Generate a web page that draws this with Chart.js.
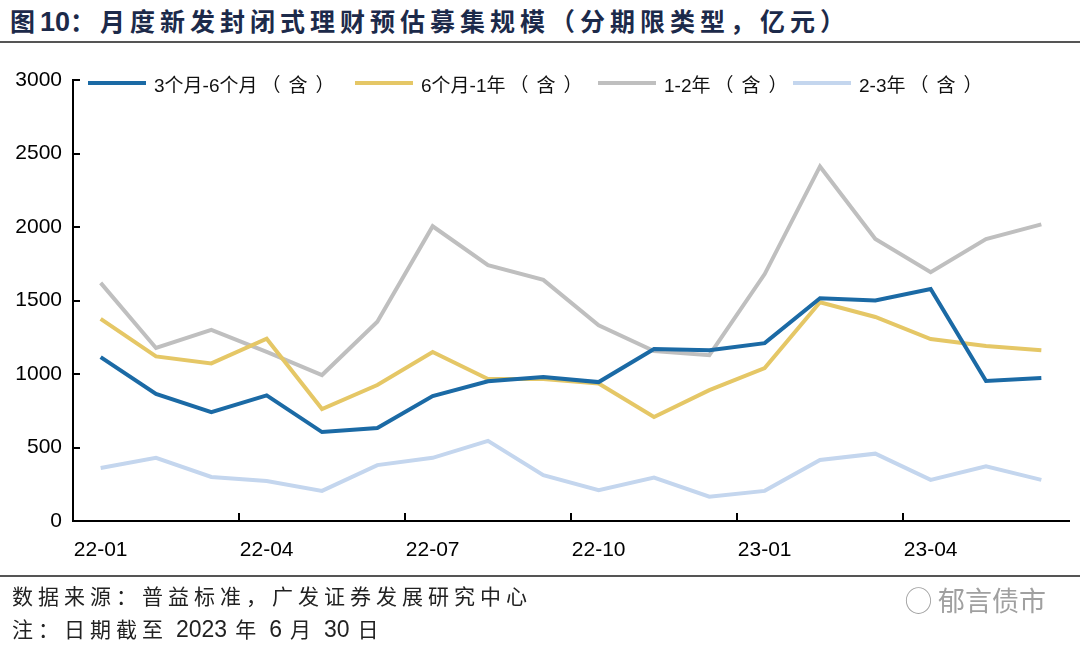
<!DOCTYPE html>
<html>
<head>
<meta charset="utf-8">
<script src="https://cdn.jsdelivr.net/npm/chart.js@4.4.0/dist/chart.umd.min.js"></script>
<style>
body{margin:0;background:#fff;width:1080px;height:646px;overflow:hidden;position:relative;font-family:"Noto Sans CJK SC","Liberation Sans",sans-serif;}
#title{position:absolute;left:10px;top:2px;font-size:25px;font-weight:bold;color:#1c2a4a;letter-spacing:5px;white-space:nowrap;}
#title .num{letter-spacing:0;font-family:"Liberation Sans",sans-serif;font-size:27px;}
.rule{position:absolute;left:0;width:1080px;height:2px;background:#555;}
#wrap{position:absolute;left:0;top:0;width:1080px;height:646px;}
#legend{position:absolute;top:70px;left:0;height:26px;}
.item{position:absolute;top:0;display:flex;align-items:center;height:26px;font-size:19px;color:#111;white-space:nowrap;font-family:"Liberation Sans","Noto Sans CJK SC",sans-serif;}
.item span.ln{display:inline-block;width:58px;height:4px;margin-right:8px;}
.item span.pr{letter-spacing:8px;margin-left:4px;}
.foot{position:absolute;left:12px;font-size:21px;color:#222;letter-spacing:5px;white-space:nowrap;}
.foot .num{letter-spacing:0;font-family:"Liberation Sans",sans-serif;font-size:23px;padding:0 8px;}
#mark{position:absolute;left:905px;top:580px;font-size:27px;color:#a0a0a0;white-space:nowrap;}
</style>
</head>
<body>
<div id="title">图<span class="num">10</span>：月度新发封闭式理财预估募集规模（分期限类型，亿元）</div>
<div class="rule" style="top:41px"></div>
<div id="wrap"><canvas id="myChart" width="1080" height="646"></canvas></div>
<div id="legend"></div>
<div class="rule" style="top:575px"></div>
<div class="foot" style="top:580px">数据来源：普益标准，广发证券发展研究中心</div>
<div class="foot" style="top:613px">注：日期截至<span class="num">2023</span>年<span class="num">6</span>月<span class="num">30</span>日</div>
<div id="mark">&#9711; 郁言债市</div>
<script>
var months = ['22-01','22-02','22-03','22-04','22-05','22-06','22-07','22-08','22-09',
              '22-10','22-11','22-12','23-01','23-02','23-03','23-04','23-05','23-06'];
var seriesNames = ['3个月-6个月（含）','6个月-1年（含）','1-2年（含）','2-3年（含）'];
var m3to6 = [1115,865,740,855,605,632,850,950,980,945,1170,1162,1210,1515,1500,1578,952,972];
var m6to12 = [1375,1120,1072,1240,762,925,1150,966,966,935,707,890,1040,1488,1388,1238,1190,1162];
var y1to2 = [1620,1177,1300,1150,993,1355,2005,1740,1640,1332,1156,1128,1680,2412,1918,1692,1918,2018];
var y2to3 = [360,430,300,272,205,380,430,545,312,210,295,165,205,415,458,280,372,280];
var yTicks = [0,500,1000,1500,2000,2500,3000];

var colors = ['#1b6aa5','#e5c766','#bfbfbf','#c4d6ee'];
var allData = [m3to6, m6to12, y1to2, y2to3];

var datasets = [];
for(var i = 0;i < seriesNames.length;i++){
    datasets.push({
        label: seriesNames[i],
        data: allData[i],
        borderColor: colors[i],
        backgroundColor: colors[i],
        borderWidth: 4,
        pointRadius: 0,
        tension: 0,
        order: i
    });
}

// legend sits inside the plot area, so it is done in html
var legendLeft = [88, 355, 598, 793];
var lg = document.getElementById('legend');
for(var i = 0;i < seriesNames.length;i++){
    var d = document.createElement('div');
    d.className = 'item';
    d.style.left = legendLeft[i] + 'px';
    var name = seriesNames[i];
    var cut = name.indexOf('（');
    d.innerHTML = '<span class="ln" style="background:' + colors[i] + '"></span>' +
        name.slice(0, cut) + '<span class="pr">' + name.slice(cut) + '</span>';
    lg.appendChild(d);
}

var tickFont = {family: 'Liberation Sans', size: 21};
const ctx = document.getElementById('myChart');
new Chart(ctx, {
    type: 'line',
    data: {
        labels: months,
        datasets: datasets
    },
    options: {
        responsive: false,
        animation: false,
        layout: {padding: {left: 0, right: 11, top: 80, bottom: 85}},
        plugins: {legend: {display: false}, tooltip: {enabled: false}},
        scales: {
            x: {
                offset: true,
                afterFit: function(s){ s.height = 40; },
                border: {display: true, color: '#000', width: 2},
                grid: {
                    offset: true,
                    drawOnChartArea: false,
                    drawTicks: true,
                    tickLength: -8,
                    lineWidth: 2,
                    color: function(c){ return c.index % 3 == 0 ? '#000' : 'rgba(0,0,0,0)'; }
                },
                ticks: {
                    autoSkip: false,
                    maxRotation: 0,
                    padding: 25,
                    color: '#000',
                    font: tickFont,
                    callback: function(v, idx){ return idx % 3 == 0 ? months[idx] : ''; }
                }
            },
            y: {
                min: yTicks[0],
                max: yTicks[yTicks.length - 1],
                afterFit: function(s){ s.width = 73; },
                afterBuildTicks: function(s){ s.ticks = yTicks.map(function(v){ return {value: v}; }); },
                border: {display: true, color: '#000', width: 2},
                grid: {
                    drawOnChartArea: false,
                    drawTicks: true,
                    tickLength: -7,
                    lineWidth: 2,
                    color: '#000'
                },
                ticks: {
                    padding: 18,
                    color: '#000',
                    font: tickFont,
                    callback: function(v){ return String(v); }
                }
            }
        }
    }
});
</script>
</body>
</html>
